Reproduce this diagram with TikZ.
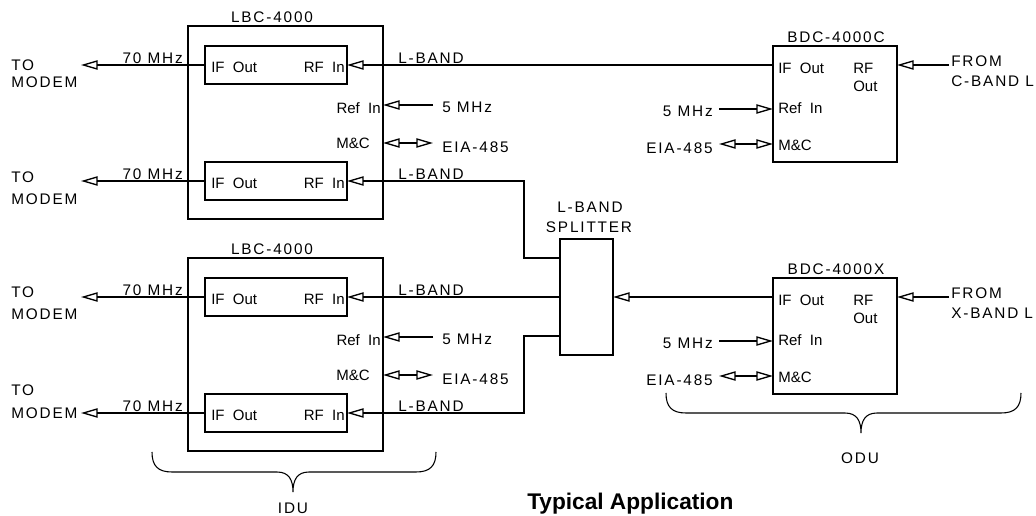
\documentclass[tikz,border=0pt]{standalone}
\usepackage{fontspec}
\setmainfont{Liberation Sans}
\newfontfamily\trkfont{Liberation Sans}[LetterSpace=12]
\newfontfamily\inlfont{Liberation Sans}[WordSpace=2]
\usetikzlibrary{arrows.meta}
\begin{document}
\begin{tikzpicture}[x=0.75pt,y=-0.75pt,
  box/.style={draw, line width=1.3pt, inner sep=0pt, outer sep=0pt},
  lbl/.style={inner sep=0pt, font={\trkfont\fontsize{11.5}{13}\selectfont}},
  inl/.style={inner sep=0pt, font={\inlfont\fontsize{11.25}{13}\selectfont}},
  arr/.style={line width=1pt, -{Triangle[open,length=12.5pt,width=7pt]}},
  darr/.style={line width=1pt, {Triangle[open,length=12.5pt,width=7pt]}-{Triangle[open,length=12.5pt,width=7pt]}},
  brace/.style={line width=0.8pt}]
\useasboundingbox (0,0) rectangle (1036,516);

% ---------- boxes ----------
\node[box, minimum width=146.25pt, minimum height=144.75pt] (lbc1) at (285.5,122.5) {};
\node[box, minimum width=106.5pt, minimum height=28.5pt] (A1) at (276,65) {};
\node[box, minimum width=106.5pt, minimum height=28.5pt] (A2) at (276,181) {};
\node[box, minimum width=146.25pt, minimum height=144.75pt] (lbc2) at (285.5,354.5) {};
\node[box, minimum width=106.5pt, minimum height=28.5pt] (B1) at (276,297) {};
\node[box, minimum width=106.5pt, minimum height=28.5pt] (B2) at (276,413) {};
\node[box, minimum width=39.75pt, minimum height=87pt] (spl) at (586.5,297) {};
\node[box, minimum width=93pt, minimum height=87pt] (bdcC) at (835,104) {};
\node[box, minimum width=93pt, minimum height=87pt] (bdcX) at (835,336) {};

% ---------- titles ----------
\node[lbl, anchor=base] (t1) at (272,22.5) {LBC-4000};
\node[lbl, anchor=base] (t2) at (272,254.5) {LBC-4000};
\node[lbl, anchor=base] (t3) at (836,42.5) {BDC-4000C};
\node[lbl, anchor=base] (t4) at (836,274.5) {BDC-4000X};
\node[lbl, anchor=base] (s1) at (590,212.5) {L-BAND};
\node[lbl, anchor=base] (s2) at (589,232.5) {SPLITTER};

% ---------- inner labels of LBC ----------
\foreach \n/\y in {A1/65,A2/181,B1/297,B2/413}{
  \node[inl, anchor=base west] (\n if) at (211,\y+8) {IF Out};
  \node[inl, anchor=base east] (\n rf) at (345,\y+8) {RF In};
}
\node[inl, anchor=base east] (r1) at (381,113.5) {Ref In};
\node[inl, anchor=base east] (m1) at (370,148.5) {M\&C};
\node[inl, anchor=base east] (r2) at (381,345.5) {Ref In};
\node[inl, anchor=base east] (m2) at (370,380.5) {M\&C};

% ---------- TO MODEM ----------
\node[lbl, anchor=base west] (to1) at (11,70.5) {TO};
\node[lbl, anchor=base west] (mo1) at (11,87.5) {MODEM};
\node[lbl, anchor=base west] (to2) at (11,182.5) {TO};
\node[lbl, anchor=base west] (mo2) at (11,204.5) {MODEM};
\node[lbl, anchor=base west] (to3) at (11,298) {TO};
\node[lbl, anchor=base west] (mo3) at (11,320) {MODEM};
\node[lbl, anchor=base west] (to4) at (11,396) {TO};
\node[lbl, anchor=base west] (mo4) at (11,419) {MODEM};

\foreach \n/\y in {A1/65,A2/181,B1/297,B2/413}{
  \coordinate (\n m) at (81,\y);
  \draw[arr] (\n.west) -- (\n m);
  \node[lbl, anchor=base east] (\n mhz) at (183,\y-1.5) {70 MHz};
  \node[lbl, anchor=base west] (\n lb) at (398,\y-1.5) {L-BAND};
}

% ---------- LBC ref / M&C ----------
\coordinate (rr1) at (433,105);
\coordinate (mm1) at (433,143);
\coordinate (rr2) at (433,337);
\coordinate (mm2) at (433,375);
\draw[arr] (rr1) -- (lbc1.east |- rr1);
\draw[darr] (lbc1.east |- mm1) -- (mm1);
\draw[arr] (rr2) -- (lbc2.east |- rr2);
\draw[darr] (lbc2.east |- mm2) -- (mm2);
\node[lbl, anchor=base west] (f1) at (442,112.5) {5 MHz};
\node[lbl, anchor=base west] (e1) at (442,152.5) {EIA-485};
\node[lbl, anchor=base west] (f2) at (442,344.5) {5 MHz};
\node[lbl, anchor=base west] (e2) at (442,384.5) {EIA-485};

% ---------- BDC units ----------
\foreach \n/\d in {bdcC/0,bdcX/232}{
  \node[inl, anchor=base west] (\n if) at (778,73.5+\d) {IF Out};
  \node[inl, anchor=base west] (\n rf) at (853,73.5+\d) {RF};
  \node[inl, anchor=base west] (\n ro) at (853,91.5+\d) {Out};
  \node[inl, anchor=base west] (\n ri) at (778,113.5+\d) {Ref In};
  \node[inl, anchor=base west] (\n mc) at (778,150.5+\d) {M\&C};
  \coordinate (\n r) at (719,109+\d);
  \coordinate (\n m) at (719,144+\d);
  \coordinate (\n f) at (949,65+\d);
  \draw[arr] (\n r) -- (\n.west |- \n r);
  \draw[darr] (\n m) -- (\n.west |- \n m);
  \draw[arr] (\n f) -- (\n.east |- \n f);
  \node[lbl, anchor=base east] (\n five) at (713,116.5+\d) {5 MHz};
  \node[lbl, anchor=base east] (\n eia) at (713,153.5+\d) {EIA-485};
  \node[lbl, anchor=base west] (\n from) at (951,66.5+\d) {FROM};
}
\node[lbl, anchor=base west] (cb) at (951,86.5) {C-BAND L};
\node[lbl, anchor=base west] (xb) at (951,318.5) {X-BAND L};

% ---------- L-band connections ----------
\coordinate (kA) at (524,258);
\coordinate (kB) at (524,336);
\draw[arr] (bdcC.west |- A1.east) -- (A1.east);
\draw[arr] (spl.west |- kA) -- (kA) |- (A2.east);
\draw[arr] (spl.west |- B1.east) -- (B1.east);
\draw[arr] (spl.west |- kB) -- (kB) |- (B2.east);
\draw[arr] (bdcX.west |- B1.east) -- (spl.east |- B1.east);

% ---------- braces ----------
\draw[brace] (152,452) .. controls (152,466) and (158,472) .. (172,472) -- (277,472)
  .. controls (289,472) and (293,480) .. (293,492)
  .. controls (293,480) and (297,472) .. (309,472) -- (416,472)
  .. controls (430,472) and (436,466) .. (436,452);
\draw[brace] (666,393) .. controls (666,407) and (672,413) .. (686,413) -- (845,413)
  .. controls (857,413) and (861,421) .. (861,433)
  .. controls (861,421) and (865,413) .. (877,413) -- (1001,413)
  .. controls (1015,413) and (1021,407) .. (1021,393);
\node[lbl, anchor=base] (idu) at (293,513.5) {IDU};
\node[lbl, anchor=base] (odu) at (860,463.5) {ODU};

\node[inner sep=0pt, anchor=base west, font={\bfseries\fontsize{17}{20}\selectfont}] (cap) at (527,510) {Typical Application};
\end{tikzpicture}
\end{document}
